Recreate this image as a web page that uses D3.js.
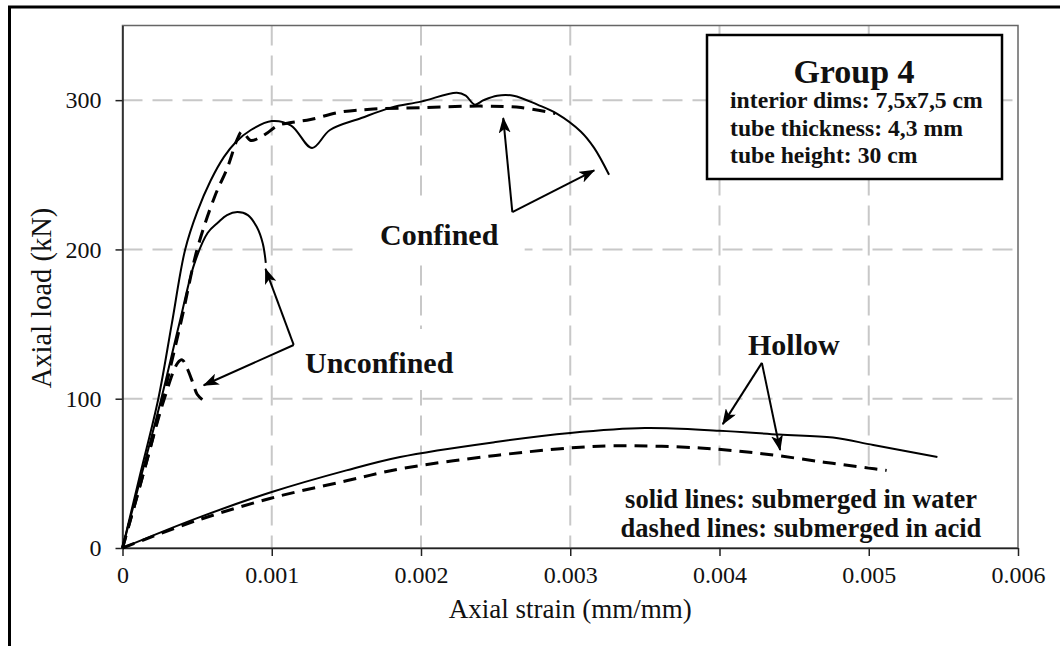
<!DOCTYPE html>
<html>
<head>
<meta charset="utf-8">
<script src="https://cdn.jsdelivr.net/npm/d3@7"></script>
<style>
  html, body { margin: 0; padding: 0; background: #fff; }
  svg { display: block; }
  text { font-family: "Liberation Serif", "Times New Roman", serif; fill: #111; }
</style>
</head>
<body>
<svg id="chart" width="1060" height="646"></svg>
<script>
// ---- data: axial strain (mm/mm) vs axial load (kN) ----
const confinedWaterStrain = [0, 0.00012, 0.00024, 0.00033, 0.00042, 0.0005, 0.00059, 0.00068, 0.00076, 0.00086, 0.001, 0.00113, 0.00127, 0.00139, 0.0016, 0.0018, 0.002, 0.00224, 0.0023, 0.00236, 0.00242, 0.00251, 0.00262, 0.00278, 0.00291, 0.00307, 0.00316, 0.00326];
const confinedWaterLoad   = [0, 50, 100, 150, 200, 225, 246, 262, 272, 280, 286, 283, 268, 280, 288, 295, 299, 305, 303, 297, 300, 303, 303, 297, 291, 279, 268, 250];

const confinedAcidStrain = [0, 0.00014, 0.00027, 0.0004, 0.0005, 0.00062, 0.0007, 0.00077, 0.0008, 0.00086, 0.00092, 0.00097, 0.00104, 0.00113, 0.00126, 0.00146, 0.00168, 0.002, 0.0024, 0.00267, 0.0029];
const confinedAcidLoad   = [0, 50, 100, 155, 200, 236, 254, 274, 279, 273, 275, 278, 283, 285, 287, 292, 294, 295, 296, 295, 291];

const unconfinedWaterStrain = [0, 0.00013, 0.00026, 0.00038, 0.00048, 0.00057, 0.00064, 0.0007, 0.00077, 0.00084, 0.0009, 0.00094, 0.00096];
const unconfinedWaterLoad   = [0, 50, 100, 150, 190, 211, 218, 223, 225, 223, 215, 204, 191];

const unconfinedAcidStrain = [0, 0.00014, 0.00028, 0.00037, 0.0004, 0.00043, 0.00047, 0.0005, 0.00054];
const unconfinedAcidLoad   = [0, 50, 100, 124, 126, 121, 111, 103, 99];

const hollowWaterStrain = [0, 0.0005, 0.001, 0.0015, 0.00186, 0.0025, 0.003, 0.0035, 0.004, 0.0044, 0.00476, 0.00503, 0.00546];
const hollowWaterLoad   = [0, 20, 37.5, 52, 61, 71, 77, 80.3, 78.5, 76, 74, 69, 61];

const hollowAcidStrain = [0, 0.0005, 0.001, 0.0015, 0.00186, 0.0025, 0.003, 0.00329, 0.00387, 0.0043, 0.0047, 0.005, 0.00512];
const hollowAcidLoad   = [0, 18.5, 33.5, 45, 53, 62, 67, 68.5, 67, 63, 57.5, 53.5, 52];

// ---- axis ticks ----
const xTickValues = [0, 0.001, 0.002, 0.003, 0.004, 0.005, 0.006];
const xTickLabels = ["0", "0.001", "0.002", "0.003", "0.004", "0.005", "0.006"];
const yTickValues = [0, 100, 200, 300];
const yTickLabels = ["0", "100", "200", "300"];

// ---- annotations (data units) ----
const annotationLabels = ["Confined", "Unconfined", "Hollow"];
const annotationApex = [[0.002612, 225], [0.001147, 136], [0.004284, 124]];
const annotationTips = [
  [[0.002551, 288], [0.003161, 253]],
  [[0.000958, 187], [0.000544, 109]],
  [[0.004022, 83], [0.004406, 65.6]]
];

const infoTitle = "Group 4";
const infoLines = ["interior dims: 7,5x7,5 cm", "tube thickness: 4,3 mm", "tube height: 30 cm"];
const keyLines = ["solid lines: submerged in water", "dashed lines: submerged in acid"];

// ---- layout ----
const svg = d3.select("#chart");
const plot = { left: 122.5, right: 1018, top: 25.5, bottom: 548 };

const x = d3.scaleLinear().domain([0, 0.006]).range([plot.left, plot.right]);
const y = d3.scaleLinear().domain([0, 350]).range([plot.bottom, plot.top]);

// outer chart border (only left and top edges fall inside the view)
svg.append("rect")
  .attr("x", 9.5).attr("y", 7).attr("width", 1100).attr("height", 700)
  .attr("fill", "none").attr("stroke", "#000").attr("stroke-width", 3);

// gridlines
const grid = svg.append("g").attr("stroke", "#c8c8c8").attr("stroke-width", 2)
  .attr("stroke-dasharray", "20,10");
grid.selectAll("line.v").data(xTickValues.slice(1, -1)).join("line")
  .attr("class", "v")
  .attr("x1", d => x(d)).attr("x2", d => x(d))
  .attr("y1", plot.top).attr("y2", plot.bottom);
grid.selectAll("line.h").data(yTickValues.slice(1)).join("line")
  .attr("class", "h")
  .attr("x1", plot.left).attr("x2", plot.right)
  .attr("y1", d => y(d)).attr("y2", d => y(d));

// plot area frame
svg.append("rect")
  .attr("x", plot.left).attr("y", plot.top)
  .attr("width", plot.right - plot.left).attr("height", plot.bottom - plot.top)
  .attr("fill", "none").attr("stroke", "#666").attr("stroke-width", 1.5);

// axes
const xAxis = svg.append("g")
  .attr("transform", `translate(0,${plot.bottom})`)
  .call(d3.axisBottom(x).tickValues(xTickValues)
    .tickFormat((d, i) => xTickLabels[i]).tickSize(8).tickSizeOuter(0).tickPadding(10));
const yAxis = svg.append("g")
  .attr("transform", `translate(${plot.left},0)`)
  .call(d3.axisLeft(y).tickValues(yTickValues)
    .tickFormat((d, i) => yTickLabels[i]).tickSize(7).tickSizeOuter(0).tickPadding(14));
[xAxis, yAxis].forEach(g => {
  g.select(".domain").attr("stroke", "#222").attr("stroke-width", 1.5);
  g.selectAll(".tick line").attr("stroke", "#222").attr("stroke-width", 1.5);
  g.selectAll(".tick text").attr("font-family", "Liberation Serif, serif")
    .attr("font-size", 24).attr("fill", "#222");
});
xAxis.selectAll(".tick text").attr("dy", "0.71em");
yAxis.selectAll(".tick text").attr("dy", "0.32em");

// axis titles
svg.append("text")
  .attr("x", (plot.left + plot.right) / 2).attr("y", 618)
  .attr("text-anchor", "middle").attr("font-size", 27).attr("fill", "#222")
  .text("Axial strain (mm/mm)");
svg.append("text")
  .attr("transform", "translate(51,298) rotate(-90)")
  .attr("text-anchor", "middle").attr("font-size", 28.5).attr("fill", "#222")
  .text("Axial load (kN)");

// annotation labels with white backgrounds
const labelPos = [[380, 245], [305, 373], [748, 355]];
const labelLayer = svg.append("g");
const curveLayer = svg.append("g");
const arrowLayer = svg.append("g");
const textLayer = svg.append("g");

annotationLabels.forEach((lab, i) => {
  const t = textLayer.append("text")
    .attr("x", labelPos[i][0]).attr("y", labelPos[i][1])
    .attr("font-size", 30).attr("font-weight", "bold").text(lab);
  const bb = t.node().getBBox();
  labelLayer.append("rect")
    .attr("x", bb.x - 26).attr("y", bb.y - 17)
    .attr("width", bb.width + 52).attr("height", bb.height + 28)
    .attr("fill", "#fff");
});

// curves
const line = d3.line().x(d => x(d[0])).y(d => y(d[1])).curve(d3.curveCatmullRom.alpha(0.5));
const series = [
  { s: confinedWaterStrain, l: confinedWaterLoad, dashed: false },
  { s: confinedAcidStrain, l: confinedAcidLoad, dashed: true },
  { s: unconfinedWaterStrain, l: unconfinedWaterLoad, dashed: false },
  { s: unconfinedAcidStrain, l: unconfinedAcidLoad, dashed: true },
  { s: hollowWaterStrain, l: hollowWaterLoad, dashed: false },
  { s: hollowAcidStrain, l: hollowAcidLoad, dashed: true }
];
series.forEach(sr => {
  curveLayer.append("path")
    .datum(d3.zip(sr.s, sr.l))
    .attr("d", line)
    .attr("fill", "none").attr("stroke", "#000")
    .attr("stroke-width", sr.dashed ? 3 : 2)
    .attr("stroke-dasharray", sr.dashed ? "13,8" : null)
    .attr("stroke-linejoin", "round");
});

// arrowhead marker
svg.append("defs").append("marker")
  .attr("id", "head").attr("viewBox", "0 0 16 12")
  .attr("refX", 15).attr("refY", 6)
  .attr("markerWidth", 16).attr("markerHeight", 12)
  .attr("markerUnits", "userSpaceOnUse").attr("orient", "auto")
  .append("path").attr("d", "M0,0 L16,6 L0,12 L4,6 Z").attr("fill", "#000");

annotationApex.forEach((apex, i) => {
  annotationTips[i].forEach(tip => {
    arrowLayer.append("line")
      .attr("x1", x(apex[0])).attr("y1", y(apex[1]))
      .attr("x2", x(tip[0])).attr("y2", y(tip[1]))
      .attr("stroke", "#000").attr("stroke-width", 2)
      .attr("marker-end", "url(#head)");
  });
});

// key text box (bottom right)
const keyG = svg.append("g");
keyG.append("rect").attr("fill", "#fff")
  .attr("x", 615).attr("y", 472).attr("width", 375).attr("height", 75);
keyLines.forEach((t, i) => {
  keyG.append("text").attr("x", 801).attr("y", 508 + i * 29)
    .attr("text-anchor", "middle").attr("font-size", 26.5).attr("font-weight", "bold").text(t);
});

// info box (top right)
const info = svg.append("g");
info.append("rect")
  .attr("x", 707).attr("y", 35).attr("width", 295).attr("height", 144)
  .attr("fill", "#fff").attr("stroke", "#000").attr("stroke-width", 2.5);
info.append("text").attr("x", 854).attr("y", 83)
  .attr("text-anchor", "middle").attr("font-size", 34).attr("font-weight", "bold").text(infoTitle);
infoLines.forEach((t, i) => {
  info.append("text").attr("x", 730).attr("y", 108 + i * 27.5)
    .attr("font-size", 23.7).attr("font-weight", "bold").text(t);
});
</script>
</body>
</html>
